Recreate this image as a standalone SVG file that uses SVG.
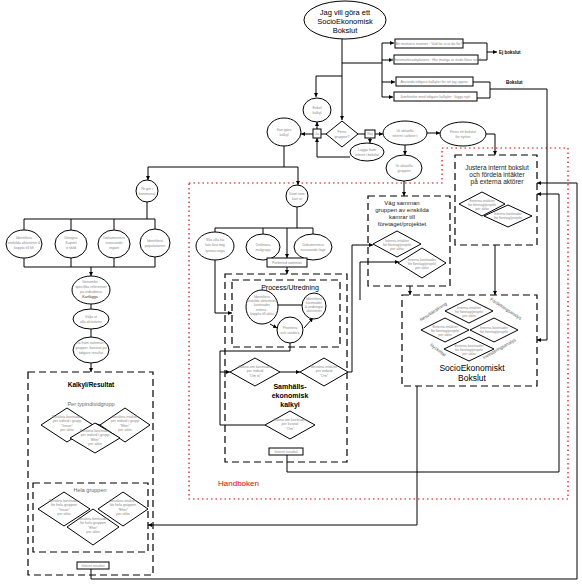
<svg xmlns="http://www.w3.org/2000/svg" width="582" height="586" viewBox="0 0 582 586">
<defs>
<marker id="a" viewBox="0 0 4 4" refX="4" refY="2" markerWidth="4" markerHeight="4" orient="auto"><path d="M0,0 L4,2 L0,4 z" fill="#000"/></marker>
</defs>
<style>
.l{fill:none;stroke:#000;stroke-width:1}
.s{fill:#fff;stroke:#000;stroke-width:1}
.d{fill:none;stroke:#000;stroke-width:1.2;stroke-dasharray:7 4}
.r{fill:none;stroke:#e00000;stroke-width:1.2;stroke-dasharray:1.5 3}
text{font-family:"Liberation Sans",Arial,sans-serif;text-anchor:middle}
.t{font-size:3.6px;fill:#888}
.h{font-size:7.5px;fill:#000}
.k{font-size:6.5px;fill:#222}
.bb{font-size:7px;font-weight:bold;fill:#000}
.rt{font-size:4.5px;fill:#555}
</style>
<rect width="582" height="586" fill="#fff"/>

<g id="handboken">
<path class="r" d="M189,183 H442 V148 H568 V499 H189 Z"/>
<text x="218" y="486" style="font-size:8px;fill:#e00000;text-anchor:start">Handboken</text>
</g>

<g id="connectors">
<path class="l" d="M342,39 V120" marker-end="url(#a)"/>
<path class="l" d="M342,76 H316 V97" marker-end="url(#a)"/>
<path class="l" d="M342,63 H382"/>
<path class="l" d="M382,43 V97"/>
<path class="l" d="M382,43 H394" marker-end="url(#a)"/>
<path class="l" d="M382,60 H393" marker-end="url(#a)"/>
<path class="l" d="M382,82 H395" marker-end="url(#a)"/>
<path class="l" d="M382,97 H393" marker-end="url(#a)"/>
<path class="l" d="M463,43 H487 V60 H478"/>
<path class="l" d="M487,52 H497" marker-end="url(#a)"/>
<path class="l" d="M473,82 H490 V98 H477"/>
<path class="l" d="M490,89 H547 V340 H537" marker-end="url(#a)"/>
<path class="l" d="M326,134 H321"/>
<path class="l" d="M313,134 H301" marker-end="url(#a)"/>
<path class="l" d="M317,129 V122" marker-end="url(#a)"/>
<path class="l" d="M358,134 H365"/>
<path class="l" d="M375,134 H383" marker-end="url(#a)"/>
<path class="l" d="M427,133 H440" marker-end="url(#a)"/>
<path class="l" d="M486,134 H495 V155" marker-end="url(#a)"/>
<path class="l" d="M370,138 V143" marker-end="url(#a)"/>
<path class="l" d="M350,157 H317 V138" marker-end="url(#a)"/>
<path class="l" d="M405,145 V155" marker-end="url(#a)"/>
<path class="l" d="M404,181 V196" marker-end="url(#a)"/>
<path class="l" d="M284,146 V167"/>
<path class="l" d="M148,167 H298"/>
<path class="l" d="M148,167 V180" marker-end="url(#a)"/>
<path class="l" d="M298,167 V185" marker-end="url(#a)"/>
<path class="l" d="M147,202 V219 M24,219 H155 M24,219 V230 M71,219 V230 M114,219 V230 M155,219 V229"/>
<path class="l" d="M24,258 V267 M71,258 V267 M114,258 V267 M155,257 V267 M24,267 H155"/>
<path class="l" d="M91,267 V276" marker-end="url(#a)"/>
<path class="l" d="M91,304 V309"/>
<path class="l" d="M91,329 V337"/>
<path class="l" d="M91,363 V372" marker-end="url(#a)"/>
<path class="l" d="M93,425 H100" marker-end="url(#a)"/>
<path class="l" d="M91,569 V579 H577 V183 H537" marker-end="url(#a)"/>
<path class="l" d="M417,386 V525 H148" marker-end="url(#a)"/>
<path class="l" d="M297,207 V228 M215,228 H313 M215,228 V232 M263,228 V234 M313,228 V234"/>
<path class="l" d="M287,228 V258" marker-end="url(#a)"/>
<path class="l" d="M287,267 V274" marker-end="url(#a)"/>
<path class="l" d="M215,260 V313 H232" marker-end="url(#a)"/>
<path class="l" d="M278,305 H302"/>
<path class="l" d="M304,328 L313,318" marker-end="url(#a)"/>
<path class="l" d="M270,324 L277,328" marker-end="url(#a)"/>
<path class="l" d="M290,343 V351 H220 V425 H265"/>
<path class="l" d="M220,372 H230" marker-end="url(#a)"/>
<path class="l" d="M280,372 H300" marker-end="url(#a)"/>
<path class="l" d="M348,372 H352 V245 H373" marker-end="url(#a)"/>
<path class="l" d="M360,300 V262 H399" marker-end="url(#a)"/>
<path class="l" d="M287,455 V472 H559 V194 H537" marker-end="url(#a)"/>
<path class="l" d="M410,286 V295" marker-end="url(#a)"/>
<path class="l" d="M495,245 V295" marker-end="url(#a)"/>
</g>

<g id="start">
<ellipse class="s" cx="345" cy="20" rx="41" ry="19"/>
<text class="h" x="345" y="15">Jag vill göra ett</text>
<text class="h" x="345" y="24">SocioEkonomisk</text>
<text class="h" x="345" y="33">Bokslut</text>
</g>

<g id="box1"><rect class="s" x="395" y="39" width="68" height="9"/><text class="t" x="429" y="45">Att motivera insatser : Vad får vi ut då för?</text></g>
<g id="box2"><rect class="s" x="394" y="55" width="84" height="9"/><text class="t" x="436" y="61">Arbetsmarknadsplanera : Hur många är ändå klara nog?</text></g>
<g id="box3"><rect class="s" x="396" y="77" width="77" height="9"/><text class="t" x="434" y="83">Använda tidigare kalkyler för att jag uppnå</text></g>
<g id="box4"><rect class="s" x="394" y="92" width="83" height="9"/><text class="t" x="435" y="98">Jämförelse med tidigare kalkyler : lägga nytt</text></g>
<g id="ejbokslut"><text x="499" y="54" style="font-size:4.5px;font-weight:bold;text-anchor:start">Ej bokslut</text></g>
<g id="bokslut"><text x="506" y="84" style="font-size:4.5px;font-weight:bold;text-anchor:start">Bokslut</text></g>

<g id="enkel"><ellipse class="s" cx="317" cy="110" rx="14" ry="12"/><text class="t" x="317" y="109">Enkel</text><text class="t" x="317" y="114">kalkyl</text></g>
<g id="finns"><polygon class="s" points="342,121 358,134 342,147 326,134"/><text class="t" x="342" y="133">Finns</text><text class="t" x="342" y="138">gruppen?</text></g>
<g id="ja"><rect class="s" x="313" y="129" width="8" height="9"/><text class="t" x="317" y="135">Ja</text></g>
<g id="nej"><rect class="s" x="365" y="130" width="10" height="8"/><text class="t" x="370" y="135">Nej</text></g>
<g id="kangora"><ellipse class="s" cx="284" cy="132" rx="17" ry="14"/><text class="t" x="284" y="131">Kan göra</text><text class="t" x="284" y="136">kalkyl</text></g>
<g id="uraktuella"><ellipse class="s" cx="405" cy="133" rx="22" ry="12"/><text class="t" x="405" y="132">Ur aktuella</text><text class="t" x="405" y="137">internt i arbete t</text></g>
<g id="finnsbokslut"><ellipse class="s" cx="463" cy="134" rx="23" ry="12"/><text class="t" x="463" y="133">Finns ett bokslut</text><text class="t" x="463" y="138">för nyttan</text></g>
<g id="laggafram"><ellipse class="s" cx="367" cy="152" rx="17" ry="9"/><text class="t" x="367" y="151">Lägga fram</text><text class="t" x="367" y="156">internt i bokslut</text></g>
<g id="urgruppen"><ellipse class="s" cx="404" cy="168" rx="18" ry="13"/><text class="t" x="404" y="167">Ur aktuella</text><text class="t" x="404" y="172">gruppen</text></g>

<g id="nigor"><ellipse class="s" cx="147" cy="191" rx="11" ry="11"/><text class="t" x="147" y="190">Ni gör i</text><text class="t" x="147" y="195">kommunal</text></g>
<g id="l1"><ellipse class="s" cx="24" cy="244" rx="18" ry="14"/><text class="t" x="24" y="239">Identifiera</text><text class="t" x="24" y="244">enskilda aktiviteter &amp;</text><text class="t" x="24" y="249">koppla till kfr</text></g>
<g id="l2"><ellipse class="s" cx="71" cy="244" rx="16" ry="14"/><text class="t" x="71" y="239">Designa</text><text class="t" x="71" y="244">Kapitel</text><text class="t" x="71" y="249">e skild</text></g>
<g id="l3"><ellipse class="s" cx="114" cy="244" rx="16" ry="14"/><text class="t" x="114" y="239">Dokumentera</text><text class="t" x="114" y="244">nuvarande</text><text class="t" x="114" y="249">region</text></g>
<g id="l4"><ellipse class="s" cx="155" cy="243" rx="15" ry="14"/><text class="t" x="155" y="242">Identifiera</text><text class="t" x="155" y="247">populationen</text></g>
<g id="l5"><ellipse class="s" cx="91" cy="290" rx="19" ry="14"/><text class="t" x="91" y="283">Genomför :</text><text class="t" x="91" y="288">specifika referenser</text><text class="t" x="91" y="293">på individnivå</text><text class="t" x="91" y="298" style="fill:#333">Kartlägga :</text></g>
<g id="l6"><ellipse class="s" cx="91" cy="319" rx="18" ry="10"/><text class="t" x="91" y="318">Välja ut</text><text class="t" x="91" y="323">alla aktiviteter</text></g>
<g id="l7"><ellipse class="s" cx="91" cy="350" rx="18" ry="13"/><text class="t" x="91" y="344">Ta fram samman i</text><text class="t" x="91" y="349">grupper, baserat på</text><text class="t" x="91" y="354">tidigare resultat</text></g>

<g id="kalkyl">
<rect class="d" x="28" y="372" width="125" height="203"/>
<text class="bb" x="91" y="387" style="font-size:6.5px">Kalkyl/Resultat</text>
<text x="91" y="406" style="font-size:5.5px;fill:#666">Per typindividgrupp</text>
<polygon class="s" points="67,408 93,425 67,442 41,425"/>
<text class="t" x="67" y="418">Beräkna kostnader</text><text class="t" x="67" y="422">per individ i grupp</text><text class="t" x="67" y="427">"Innan"</text><text class="t" x="67" y="431">per aktiv</text>
<polygon class="s" points="125,408 150,425 125,442 100,425"/>
<text class="t" x="125" y="418">Beräkna intäkter</text><text class="t" x="125" y="422">per individ i grupp</text><text class="t" x="125" y="427">"Efter"</text><text class="t" x="125" y="431">per aktiv</text>
<polygon class="s" points="95,423 120,438 95,453 70,438"/>
<text class="t" x="95" y="432">Beräkna kostnader</text><text class="t" x="95" y="436">per individ i grupp</text><text class="t" x="95" y="441">"Efter"</text><text class="t" x="95" y="445">per aktiv</text>
<rect class="d" x="33" y="483" width="115" height="69"/>
<text x="90" y="492" style="font-size:5.5px;fill:#666">Hela gruppen</text>
<polygon class="s" points="64,492 90,509 64,526 38,509"/>
<text class="t" x="64" y="502">Beräkna kostnader</text><text class="t" x="64" y="506">för hela gruppen</text><text class="t" x="64" y="511">"Innan"</text><text class="t" x="64" y="515">per aktiv</text>
<polygon class="s" points="123,492 148,509 123,526 98,509"/>
<text class="t" x="123" y="502">Beräkna intäkter</text><text class="t" x="123" y="506">för hela gruppen</text><text class="t" x="123" y="511">"Efter"</text><text class="t" x="123" y="515">per aktiv</text>
<polygon class="s" points="93,509 119,527 93,545 67,527"/>
<text class="t" x="93" y="520">Beräkna kostnader</text><text class="t" x="93" y="524">för hela gruppen</text><text class="t" x="93" y="529">"Efter"</text><text class="t" x="93" y="533">per aktiv</text>
</g>
<g id="internt1"><rect class="s" x="77" y="562" width="32" height="7"/><text class="t" x="93" y="567">Internt resultat</text></g>

<g id="domsom"><ellipse class="s" cx="297" cy="196" rx="11" ry="11"/><text class="t" x="297" y="195">Dom som</text><text class="t" x="297" y="200">kan ut</text></g>
<g id="e1"><ellipse class="s" cx="215" cy="246" rx="19" ry="14"/><text class="t" x="215" y="241">Ska alla ha</text><text class="t" x="215" y="246">kan lära mig</text><text class="t" x="215" y="252">lyssna noga</text></g>
<g id="e2"><ellipse class="s" cx="263" cy="247" rx="17" ry="13"/><text class="t" x="263" y="246">Definiera</text><text class="t" x="263" y="251">målgrupp</text></g>
<g id="e3"><ellipse class="s" cx="313" cy="247" rx="19" ry="13"/><text class="t" x="313" y="246">Dokumentera</text><text class="t" x="313" y="251">nuvarande läge</text></g>
<g id="forbered"><rect class="s" x="267" y="258" width="40" height="9"/><text class="t" x="287" y="264">Förbered samman</text></g>

<g id="process">
<rect class="d" x="225" y="274" width="122" height="188"/>
<rect class="d" x="232" y="280" width="108" height="67"/>
<text x="290" y="290" style="font-size:7px;fill:#000">Process/Utredning</text>
<ellipse class="s" cx="262" cy="307" rx="16" ry="17"/>
<text class="t" x="262" y="298">Identifiera</text><text class="t" x="262" y="302">enskilda aktiviteter i</text><text class="t" x="262" y="306">kostnader</text><text class="t" x="262" y="311">initiera :</text><text class="t" x="262" y="315">koppla till aktiv</text>
<ellipse class="s" cx="314" cy="306" rx="12" ry="13"/>
<text class="t" x="314" y="300">Identifiera</text><text class="t" x="314" y="304">kostnader</text><text class="t" x="314" y="308">&amp; ändringar</text><text class="t" x="314" y="312">aktiviteter</text>
<ellipse class="s" cx="290" cy="330" rx="13" ry="13"/>
<text class="t" x="290" y="329">Prioritera</text><text class="t" x="290" y="334">och värdera</text>
<polygon class="s" points="255,358 280,372 255,386 230,372"/>
<text class="t" x="255" y="368">Räkna om kostnader</text><text class="t" x="255" y="372">per individ</text><text class="t" x="255" y="377">"Om ej"</text>
<polygon class="s" points="324,358 348,372 324,386 300,372"/>
<text class="t" x="324" y="368">Beräkna intäkter</text><text class="t" x="324" y="372">per individ</text><text class="t" x="324" y="377">"Om"</text>
<text class="bb" x="290" y="389">Samhälls-</text>
<text class="bb" x="290" y="398">ekonomisk</text>
<text class="bb" x="290" y="407">kalkyl</text>
<polygon class="s" points="290,411 315,425 290,439 265,425"/>
<text class="t" x="290" y="421">Räkna om kostnader</text><text class="t" x="290" y="425">per kvartal</text><text class="t" x="290" y="430">"Om"</text>
</g>
<g id="internt2"><rect class="s" x="269" y="448" width="34" height="7"/><text class="t" x="286" y="453">Internt resultat</text></g>

<g id="vag">
<rect class="d" x="368" y="196" width="82" height="90"/>
<text class="k" x="402" y="205" style="font-size:6px">Väg samman</text>
<text class="k" x="402" y="212" style="font-size:6px">gruppen av enskilda</text>
<text class="k" x="402" y="219" style="font-size:6px">kamrar till</text>
<text class="k" x="402" y="226" style="font-size:6px">företaget/projektet</text>
<polygon class="s" points="397,231 421,244 397,257 373,244"/>
<text class="t" x="397" y="242">Interna intäkter</text><text class="t" x="397" y="246">för företag/projekt</text><text class="t" x="397" y="250">per aktiv</text>
<polygon class="s" points="422,248 446,263 422,278 398,263"/>
<text class="t" x="422" y="261">Interna kostnader</text><text class="t" x="422" y="265">för företag/projekt</text><text class="t" x="422" y="269">per aktiv</text>
</g>

<g id="justera">
<rect class="d" x="455" y="155" width="82" height="90"/>
<text class="k" x="497" y="170">Justera internt bokslut</text>
<text class="k" x="497" y="177">och fördela intäkter</text>
<text class="k" x="497" y="184">på externa aktörer</text>
<polygon class="s" points="482,192 505,204 482,216 459,204"/>
<text class="t" x="482" y="202">Externa intäkter</text><text class="t" x="482" y="206">för företag/projekt</text><text class="t" x="482" y="210">per aktiv</text>
<polygon class="s" points="508,205 532,216 508,227 484,216"/>
<text class="t" x="508" y="215">Interna kostnader</text><text class="t" x="508" y="219">för företag/projekt</text>
</g>

<g id="socio">
<rect class="d" x="402" y="295" width="135" height="91"/>
<polygon class="s" points="469,299 493,311 469,323 445,311"/>
<text class="t" x="469" y="309">Interna intäkter</text><text class="t" x="469" y="313">för företag/projekt</text><text class="t" x="469" y="317">per aktiv</text>
<polygon class="s" points="445,318 469,330 445,342 421,330"/>
<text class="t" x="445" y="328">Externa intäkter</text><text class="t" x="445" y="332">för företag/projekt</text><text class="t" x="445" y="336">per aktiv</text>
<polygon class="s" points="494,318 518,330 494,342 470,330"/>
<text class="t" x="494" y="329">Interna kostnader</text><text class="t" x="494" y="333">för företag/projekt</text>
<polygon class="s" points="469,337 494,349 469,361 444,349"/>
<text class="t" x="469" y="347">Externa kostnader</text><text class="t" x="469" y="351">för företag/projekt</text><text class="t" x="469" y="355">per aktiv</text>
<text class="rt" transform="translate(434,313) rotate(-33)">Resultaträkning</text>
<text class="rt" transform="translate(505,310) rotate(33)">Fördelningsanalys</text>
<text class="rt" transform="translate(437,351) rotate(38)">Nyckeltal</text>
<text class="rt" transform="translate(500,350) rotate(-30)">Investeringsanalys</text>
<text x="472" y="371" style="font-size:8.5px;fill:#000">SocioEkonomiskt</text>
<text x="472" y="381" style="font-size:8.5px;fill:#000">Bokslut</text>
</g>
</svg>
